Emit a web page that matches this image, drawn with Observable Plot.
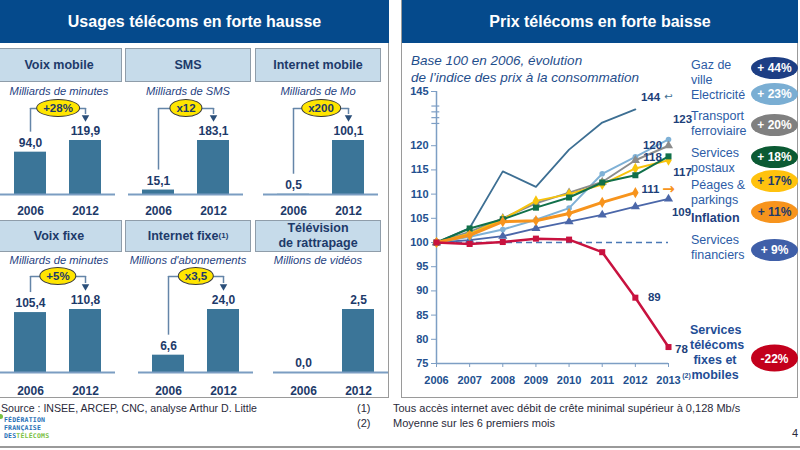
<!DOCTYPE html>
<html lang="fr"><head><meta charset="utf-8">
<script src="https://cdn.jsdelivr.net/npm/d3@7"></script>
<script src="https://cdn.jsdelivr.net/npm/@observablehq/plot@0.6"></script>
<style>
html,body{margin:0;padding:0}
body{width:800px;height:450px;overflow:hidden;background:#fff;position:relative;font-family:"Liberation Sans",Arial,Helvetica,sans-serif}
.a{position:absolute}
.frame{border:1.5px solid #9a9a9a;box-sizing:border-box}
.head{background:#054a8c;color:#fff;font-weight:bold;font-size:16px;text-align:center;line-height:43px;height:43px}
.box{background:#c6dbea;border:1.5px solid #8f9daa;box-sizing:border-box;color:#1d3a6a;font-weight:bold;font-size:12.5px;display:flex;align-items:center;justify-content:center;text-align:center;line-height:15px;width:126px;white-space:pre-line}
.box sup{font-size:8px;line-height:0;vertical-align:6px}
.unit{font-style:italic;font-size:11.2px;color:#1f3f7f;text-align:center;transform:translate(-50%,-50%);white-space:nowrap}
.oval{background:#ffe500;border:1px solid #3a3a3a;border-radius:50%;font-weight:bold;font-size:11.5px;color:#1d3a6a;padding:1px 6px;transform:translate(-50%,-50%);line-height:14px;white-space:nowrap}
.sub{font-style:italic;font-size:13.5px;color:#1f4e8c;line-height:17px;white-space:nowrap}
.leg{font-size:12.5px;line-height:15px;color:#2c5ca6;white-space:pre-line}
.pill{border-radius:50%;color:#fff;font-weight:bold;font-size:12px;display:flex;align-items:center;justify-content:center;width:47px;height:22px;transform:translateY(-50%)}
.foot{font-size:11px;color:#2a2a3a;line-height:13px;white-space:nowrap}
.logo{font-size:6.5px;font-weight:bold;line-height:8px;color:#1f6fb6;font-family:"DejaVu Sans Mono",monospace;letter-spacing:0.2px}
svg{overflow:visible}
</style></head><body>
<script>
// ---------- Data: usages ----------
const usageTitles = ["Voix mobile", "SMS", "Internet mobile", "Voix fixe", "Internet fixe", "Télévision\nde rattrapage"];
const usageNotes = ["", "", "", "", "(1)", ""];
const usageUnits = ["Milliards de minutes", "Milliards de SMS", "Milliards de Mo", "Milliards de minutes", "Millions d'abonnements", "Millions de vidéos"];
const usageYears = ["2006", "2012"];
const usage2006 = [94.0, 15.1, 0.5, 105.4, 6.6, 0.0];
const usage2012 = [119.9, 183.1, 100.1, 110.8, 24.0, 2.5];
const usageGrowth = ["+28%", "x12", "x200", "+5%", "x3,5", ""];

// ---------- Data: prix ----------
const priceYears = [2006, 2007, 2008, 2009, 2010, 2011, 2012, 2013];
const priceNames = ["Gaz de\nville", "Electricité", "Transport\nferroviaire", "Services\npostaux", "Péages &\nparkings", "Inflation", "Services\nfinanciers", "Services\ntélécoms\nfixes et\nmobiles"];
const priceChanges = ["+ 44%", "+ 23%", "+ 20%", "+ 18%", "+ 17%", "+ 11%", "+ 9%", "-22%"];
const gasIdx  = [100, 103.0, 114.7, 111.5, 119.2, 126.3, 134.2, 144];
const elecIdx = [100, 101.2, 102.7, 104.7, 107.1, 114.2, 117.7, 121.3];
const railIdx = [100, 102.2, 105.0, 108.1, 110.3, 112.5, 117.0, 120.0];
const postIdx = [100, 102.9, 104.8, 107.2, 109.3, 112.4, 113.9, 117.8];
const tollIdx = [100, 101.8, 104.8, 108.6, 110.0, 112.0, 115.3, 117.0];
const inflIdx = [100, 101.5, 104.3, 104.5, 106.0, 108.3, 110.3, 111.1];
const finIdx  = [100, 100.5, 101.3, 102.9, 104.3, 105.7, 107.4, 109.0];
const telIdx  = [100, 99.7, 100.1, 100.8, 100.6, 98.0, 88.6, 78.4];
const endLabels = ["144", "123", "120", "118", "117", "111", "109", "78"];
const telMidLabel = "89";
const yTickValues = [75, 80, 85, 90, 95, 100, 105, 110, 115, 120, 145];

// ---------- Styles / layout ----------
const navy = "#1d3a6a";
const barColor = "#3b7598";
const baseColor = "#7b9dc2";
const bracketColor = "#6485a8";
const axisColor = "#7d9ec4";
const tickText = "#23508f";
const lineColors = ["#3d6f93", "#7fb1d6", "#8c8c8c", "#11704a", "#f8c40c", "#f7941d", "#4b67a9", "#c8123f"];
const pillColors = ["#1d3e84", "#7aaed3", "#808080", "#0b5a33", "#ffc20e", "#f7941d", "#3f5fa8", "#c3001c"];
const pillText = ["#fff", "#fff", "#fff", "#fff", "#1d3a6a", "#1d3a6a", "#fff", "#fff"];
const symbols = [null, "circle", "triangle", "square", "diamond", "diamond", "triangle", "square"];
const widths = [1.8, 2, 2, 2, 2, 3, 1.8, 2.5];
const lastLineYear = [2012, 2013, 2013, 2013, 2013, 2012, 2013, 2013];
const drawOrder = [0, 6, 1, 2, 4, 3, 5, 7];
const endOffsets = [[-18, 4], [14, -20], [-16, 0], [-16, 1], [14, 12], [-18, 1], [13, 13], [13, 2]];
const legendTops = [58, 87.5, 108.5, 145.5, 177.5, 210.5, 233, 322.5];
const pillCenters = [67.5, 94, 125, 156.5, 181, 212, 250, 358];
const boxLefts = [-4, 125, 255];
const panelLefts = [-4, 124, 259, -4, 134, 269];

function el(cls, styles, html) {
  const d = document.createElement("div");
  d.className = cls;
  Object.assign(d.style, styles);
  if (html != null) d.innerHTML = html;
  document.body.appendChild(d);
  return d;
}
const fmt = v => d3.format(".1f")(v).replace(".", ",");

// Frames & headers
el("a frame", {left: "-3px", top: "0px", width: "392px", height: "398px"});
el("a frame", {left: "401px", top: "0px", width: "397px", height: "398px"});
el("a head", {left: "0px", top: "0px", width: "389px"}, "Usages télécoms en forte hausse");
el("a head", {left: "402px", top: "0px", width: "396px"}, "Prix télécoms en forte baisse");

// ---------- Usage panels ----------
usageTitles.forEach((title, i) => {
  const col = i % 3, row = Math.floor(i / 3);
  el("a box", {left: boxLefts[col] + "px", top: (row ? 220 : 48) + "px", height: (row ? 32 : 34) + "px"},
    title + (usageNotes[i] ? `<sup>${usageNotes[i]}</sup>` : ""));
  el("a unit", {left: (boxLefts[col] + 63) + "px", top: (row ? 260 : 91) + "px"}, usageUnits[i]);

  const H = row ? 63 : 54;
  const lvlPx = row ? 13 : 23;
  const data = usageYears.map((yr, j) => ({year: yr, value: j ? usage2012[i] : usage2006[i]}));
  const max = Math.max(usage2006[i], usage2012[i]);
  const lvl = max * (109 - lvlPx) / H;
  const marks = [
    Plot.barY(data, {x: "year", y: "value", fill: barColor}),
    Plot.ruleY([0], {stroke: baseColor, strokeWidth: 2}),
    Plot.text(data, {x: "year", y: "value", text: d => fmt(d.value), dy: -9, fontSize: 12, fontWeight: "bold", fill: navy}),
    Plot.axisX({tickSize: 0, tickPadding: row ? 14 : 12, fontSize: 12, fontWeight: "bold", fill: navy, label: null})
  ];
  if (usageGrowth[i]) {
    marks.push(
      Plot.ruleX([data[0]], {x: "year", y1: () => lvl, y2: "value", insetBottom: 20, stroke: bracketColor, strokeWidth: 1.5}),
      Plot.line(usageYears.map(yr => ({year: yr, v: lvl})), {x: "year", y: "v", stroke: bracketColor, strokeWidth: 1.5}),
      Plot.ruleX([data[1]], {x: "year", y1: () => lvl, y2: "value", insetBottom: 26, stroke: bracketColor, strokeWidth: 1.5}),
      Plot.dot([data[1]], {x: "year", y: "value", dy: -23, symbol: "triangle2", rotate: 180, r: 3.6, fill: "#2b4f7a"})
    );
  }
  const chart = Plot.plot({
    width: 126, height: 134,
    marginLeft: 4, marginRight: 7, marginTop: 0, marginBottom: 25,
    x: {type: "band", domain: usageYears, range: [6.3, 117.7], paddingInner: 0.41, paddingOuter: 0.2},
    y: {domain: [0, max], range: [109, 109 - H], axis: null},
    style: {fontFamily: "Liberation Sans, Arial, sans-serif", color: navy, background: "transparent", overflow: "visible"},
    marks
  });
  const holder = el("a", {left: panelLefts[i] + "px", top: (row ? 263 : 85) + "px", width: "126px", height: "134px"});
  holder.appendChild(chart);
  if (usageGrowth[i]) el("a oval", {left: (panelLefts[i] + 62) + "px", top: (row ? 276 : 108) + "px"}, usageGrowth[i]);
});

// ---------- Price chart ----------
el("a sub", {left: "411px", top: "51.5px"}, "Base 100 en 2006, évolution<br>de l’indice des prix à la consommation");

const brkAt = 124, brkK = 0.343;
const brk = v => v <= brkAt ? v : brkAt + (v - brkAt) * brkK;
const priceSeries = [gasIdx, elecIdx, railIdx, postIdx, tollIdx, inflIdx, finIdx, telIdx];
const priceRows = priceSeries.flatMap((vals, s) => vals.map((v, j) => ({s, year: priceYears[j], v: brk(v)})));

const pm = [
  Plot.ruleY([100], {x1: 2006, x2: 2013, stroke: "#4a78b5", strokeDasharray: "6,4", strokeWidth: 1.3}),
  Plot.ruleX([2006], {y1: 75, y2: brk(145), stroke: axisColor, strokeWidth: 1.5}),
  Plot.ruleY([75], {x1: 2006, x2: 2013, stroke: axisColor, strokeWidth: 1.5}),
  Plot.ruleY([124.6, 125.8, 127.0, 128.2], {x1: 2005.86, x2: 2006.1, stroke: axisColor, strokeWidth: 1.2}),
  Plot.axisY({ticks: yTickValues.map(brk), tickFormat: d => String(yTickValues.find(v => Math.abs(brk(v) - d) < 1e-9)),
    tickSize: 5, tickPadding: 3, stroke: axisColor, fill: tickText, fontSize: 11, fontWeight: "bold", label: null}),
  Plot.axisX({ticks: priceYears, tickFormat: d => String(d), tickSize: 4, tickPadding: 9, stroke: axisColor, fill: tickText, fontSize: 11, fontWeight: "bold", label: null}),
  Plot.text([2013], {x: d => d, frameAnchor: "bottom", text: () => "(2)", dx: 18, dy: 14, fontSize: 7, fontWeight: "bold", fill: tickText})
];
drawOrder.forEach(s => {
  const rows = priceRows.filter(d => d.s === s && d.year <= lastLineYear[s]);
  pm.push(Plot.line(rows, {x: "year", y: "v", stroke: lineColors[s], strokeWidth: widths[s]}));
  if (symbols[s]) pm.push(Plot.dot(rows, {x: "year", y: "v", symbol: symbols[s], r: symbols[s] === "circle" ? 2.8 : 3.4, fill: lineColors[s]}));
});
endLabels.forEach((lab, s) => {
  const last = priceRows.filter(d => d.s === s && d.year === 2013);
  pm.push(Plot.text(last, {x: "year", y: "v", text: () => lab, dx: endOffsets[s][0], dy: endOffsets[s][1], fontSize: 11.5, fontWeight: "bold", fill: "#1d3f7a"}));
});
pm.push(Plot.text(priceRows.filter(d => d.s === 7 && d.year === 2012), {x: "year", y: "v", text: () => telMidLabel, dx: 19, fontSize: 11.5, fontWeight: "bold", fill: "#1d3f7a"}));
pm.push(Plot.text(priceRows.filter(d => d.s === 5 && d.year === 2013), {x: "year", y: "v", text: () => "→", fontSize: 15, fontWeight: "bold", fill: lineColors[5], fontFamily: "DejaVu Sans"}));
pm.push(Plot.text(priceRows.filter(d => d.s === 0 && d.year === 2013), {x: "year", y: "v", text: () => "↩", dy: 4, fontSize: 10, fill: lineColors[0], fontFamily: "DejaVu Sans"}));

const priceChart = Plot.plot({
  width: 305, height: 310,
  marginLeft: 41, marginRight: 32, marginTop: 11, marginBottom: 27,
  x: {domain: [2006, 2013]},
  y: {domain: [75, brk(145)]},
  style: {fontFamily: "Liberation Sans, Arial, sans-serif", color: tickText, background: "transparent", overflow: "visible"},
  marks: pm
});
el("a", {left: "395px", top: "80px", width: "305px", height: "310px"}).appendChild(priceChart);

// Legend
priceNames.forEach((name, s) => {
  const st = {left: "691px", top: legendTops[s] + "px"};
  if (s === 5) Object.assign(st, {fontWeight: "bold", color: "#1f3f7f"});
  if (s === 7) Object.assign(st, {fontWeight: "bold", color: "#1f4e96", textAlign: "center", width: "50px", left: "690px"});
  el("a leg", st, name);
  el("a pill", {left: "751px", top: pillCenters[s] + "px", background: pillColors[s], color: pillText[s], height: (s === 7 ? 27 : 22) + "px"}, priceChanges[s]);
});

// Footer
el("a foot", {left: "1px", top: "401.5px", fontSize: "10.6px"}, "Source : INSEE, ARCEP, CNC, analyse Arthur D. Little");
el("a foot", {left: "357px", top: "401.5px"}, "(1)");
el("a foot", {left: "393px", top: "401.5px"}, "Tous accès internet avec débit de crête minimal supérieur à 0,128 Mb/s");
el("a foot", {left: "357px", top: "416.5px"}, "(2)");
el("a foot", {left: "393px", top: "416.5px"}, "Moyenne sur les 6 premiers mois");
el("a foot", {left: "792px", top: "427px"}, "4");
el("a", {left: "-2px", top: "414px", width: "5px", height: "5px", borderRadius: "50%", background: "#7ac143"});
el("a logo", {left: "4px", top: "416px"}, "FÉDÉRATION<br>FRANÇAISE<br>DES<span style=\"color:#7ac143\">TÉLÉCOMS</span>");
el("a", {left: "0px", top: "446px", width: "800px", height: "1.5px", background: "#9a9a9a"});
</script>
</body></html>
